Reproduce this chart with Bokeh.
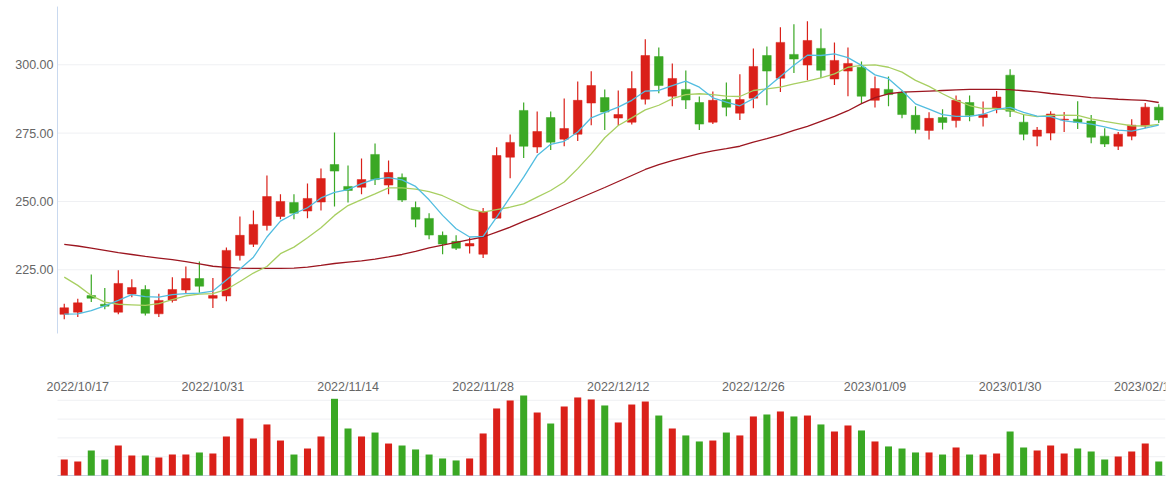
from bokeh.plotting import figure
from bokeh.models import ColumnDataSource, Range1d
from bokeh.embed import file_html
from bokeh.resources import INLINE
from bokeh.core.properties import value

# ---------------- data ----------------
dates = [
    "2022/10/14",
    "2022/10/17", "2022/10/18", "2022/10/19", "2022/10/20", "2022/10/21",
    "2022/10/24", "2022/10/25", "2022/10/26", "2022/10/27", "2022/10/28",
    "2022/10/31", "2022/11/01", "2022/11/02", "2022/11/03", "2022/11/04",
    "2022/11/07", "2022/11/08", "2022/11/09", "2022/11/10", "2022/11/11",
    "2022/11/14", "2022/11/15", "2022/11/16", "2022/11/17", "2022/11/18",
    "2022/11/21", "2022/11/22", "2022/11/23", "2022/11/24", "2022/11/25",
    "2022/11/28", "2022/11/29", "2022/11/30", "2022/12/01", "2022/12/02",
    "2022/12/05", "2022/12/06", "2022/12/07", "2022/12/08", "2022/12/09",
    "2022/12/12", "2022/12/13", "2022/12/14", "2022/12/15", "2022/12/16",
    "2022/12/19", "2022/12/20", "2022/12/21", "2022/12/22", "2022/12/23",
    "2022/12/26", "2022/12/27", "2022/12/28", "2022/12/29", "2022/12/30",
    "2023/01/03", "2023/01/04", "2023/01/05", "2023/01/06",
    "2023/01/09", "2023/01/10", "2023/01/11", "2023/01/12", "2023/01/13",
    "2023/01/16", "2023/01/17", "2023/01/18", "2023/01/19", "2023/01/20",
    "2023/01/30", "2023/01/31", "2023/02/01", "2023/02/02", "2023/02/03",
    "2023/02/06", "2023/02/07", "2023/02/08", "2023/02/09", "2023/02/10",
    "2023/02/13", "2023/02/14",
]

opens = [208.7, 209.5, 215.6, 212.4, 209.5, 216.1, 217.8, 208.9, 213.8, 217.6,
         221.8, 214.6, 215.4, 230.2, 234.3, 241.2, 244.5, 249.6, 246.5, 249.8,
         263.5, 255.5, 255.2, 267.2, 256.0, 258.8, 247.8, 243.8, 237.6, 235.4,
         233.7, 230.7, 243.9, 266.2, 283.3, 269.9, 280.7, 272.8, 274.6, 286.0,
         288.0, 280.5, 279.0, 287.4, 303.0, 288.5, 291.0, 286.2, 279.0, 287.3,
         282.3, 287.8, 303.4, 295.1, 303.8, 299.9, 306.0, 294.8, 297.7, 299.1,
         287.0, 291.0, 289.9, 281.5, 276.0, 280.7, 279.6, 286.2, 280.7, 284.1,
         296.2, 279.0, 273.9, 275.0, 279.8, 280.1, 279.4, 273.9, 270.2, 273.9,
         277.6, 284.5]
closes = [211.1, 212.9, 214.6, 211.7, 220.0, 218.5, 209.1, 213.8, 217.8, 221.8,
          219.0, 215.6, 232.1, 237.6, 241.6, 251.8, 250.0, 245.7, 251.1, 258.4,
          261.1, 254.0, 258.0, 258.0, 260.6, 250.5, 243.5, 237.7, 234.4, 232.9,
          234.6, 246.3, 266.8, 271.6, 270.2, 275.6, 271.7, 276.7, 287.0, 292.4,
          282.7, 281.8, 291.3, 303.4, 292.4, 295.0, 287.1, 278.3, 287.0, 284.5,
          287.3, 299.4, 297.7, 308.2, 302.1, 308.9, 298.0, 301.6, 300.5, 288.5,
          291.3, 289.1, 281.8, 276.3, 280.4, 278.9, 287.0, 281.5, 281.8, 288.2,
          283.0, 274.6, 276.1, 282.0, 280.1, 279.0, 273.5, 271.0, 274.6, 277.9,
          284.5, 279.8]
highs = [212.6, 214.4, 223.3, 218.3, 224.8, 221.5, 219.3, 216.2, 222.3, 226.2,
         228.0, 222.0, 233.2, 244.5, 246.7, 259.5, 252.6, 252.6, 256.6, 262.1,
         275.2, 263.2, 265.7, 271.2, 265.0, 260.2, 250.0, 245.7, 239.0, 237.6,
         236.8, 247.6, 269.8, 274.5, 286.2, 282.9, 282.9, 287.7, 293.9, 297.6,
         291.0, 290.6, 297.6, 309.3, 306.3, 300.5, 297.9, 288.4, 290.2, 293.5,
         296.5, 306.0, 306.7, 313.7, 314.8, 315.9, 313.3, 308.2, 306.3, 301.2,
         295.7, 295.7, 290.6, 284.8, 282.6, 283.7, 288.8, 288.8, 286.6, 290.4,
         298.4, 282.0, 277.2, 283.0, 282.7, 286.7, 281.6, 276.8, 275.4, 280.1,
         286.0, 285.6]
lows = [206.9, 207.7, 213.2, 210.6, 208.7, 215.0, 208.3, 207.7, 213.0, 216.2,
        216.6, 211.0, 213.5, 228.4, 233.3, 239.4, 243.5, 243.5, 243.9, 246.7,
        248.2, 249.6, 252.6, 256.0, 252.6, 249.8, 240.6, 236.2, 230.7, 232.2,
        231.0, 229.3, 243.6, 258.5, 265.9, 267.7, 268.8, 270.2, 272.1, 277.9,
        276.1, 277.8, 278.2, 285.5, 289.6, 284.8, 283.8, 276.1, 278.3, 281.2,
        279.8, 284.1, 285.2, 290.0, 297.0, 294.3, 295.2, 292.6, 288.5, 285.9,
        284.4, 284.8, 280.4, 274.9, 272.7, 276.3, 277.1, 279.3, 277.4, 282.3,
        280.9, 272.4, 270.2, 272.4, 275.4, 276.5, 271.3, 269.9, 268.8, 272.4,
        276.8, 278.7]

ma5 = [208.8, 208.9, 210.1, 211.8, 213.8, 215.9, 215.2, 215.0, 215.9, 216.3,
       216.5, 217.2, 221.3, 225.3, 229.6, 237.0, 242.8, 245.5, 247.7, 251.3,
       253.3, 254.3, 256.5, 258.2, 258.7, 257.9, 255.5, 250.6, 244.9, 240.0,
       237.0, 237.2, 244.3, 251.6, 258.9, 266.8, 270.9, 272.0, 275.4, 280.6,
       282.6, 284.5, 287.0, 290.4, 290.6, 292.4, 294.0, 291.8, 287.9, 286.3,
       285.0, 287.6, 291.6, 295.7, 299.8, 303.5, 303.4, 304.0, 302.6, 299.8,
       296.3, 294.9, 290.6, 285.7, 283.8, 281.8, 281.1, 281.1, 281.9, 283.7,
       284.4, 282.6, 281.2, 281.0, 279.5, 278.9, 278.3, 277.3, 276.1, 275.7,
       276.8, 277.9]
ma10 = [222.3, 219.3, 215.6, 213.2, 212.4, 212.2, 212.0, 212.6, 214.1, 215.5,
        216.1, 216.3, 217.8, 220.7, 223.8, 226.2, 230.9, 233.3, 236.7, 240.4,
        244.9, 248.5, 250.7, 252.8, 255.0, 255.0, 254.5, 253.6, 252.1, 249.8,
        247.3, 246.1, 247.0, 247.9, 249.1, 251.6, 254.0, 257.1, 262.0, 267.4,
        273.3, 277.8, 280.6, 283.5, 285.2, 287.6, 289.1, 289.4, 289.1, 288.5,
        288.4, 290.6, 291.2, 291.8, 293.0, 294.0, 295.2, 296.7, 299.1, 299.8,
        300.0, 299.1, 297.3, 294.3, 292.1, 289.4, 287.0, 285.1, 284.0, 284.0,
        283.4, 281.8, 281.0, 281.5, 281.6, 281.5, 280.2, 279.3, 278.5, 277.7,
        277.6, 278.2]
ma30 = [234.3, 233.7, 232.9, 232.1, 231.3, 230.6, 229.9, 229.3, 228.7, 228.0,
        227.2, 226.3, 225.9, 225.6, 225.5, 225.5, 225.5, 225.6, 226.0, 226.6,
        227.3, 227.8, 228.3, 228.9, 229.7, 230.6, 231.7, 233.0, 234.0, 235.0,
        236.0, 237.0, 238.8, 240.6, 242.7, 244.6, 246.7, 248.8, 250.9, 253.0,
        255.1, 257.3, 259.5, 261.7, 263.5, 264.9, 266.2, 267.5, 268.5, 269.3,
        270.2, 271.7, 273.0, 274.4, 276.0, 277.5, 279.3, 281.1, 283.2, 285.8,
        288.0, 289.4, 290.0, 290.2, 290.4, 290.6, 290.8, 291.0, 291.0, 291.0,
        290.9, 290.5, 290.1, 289.5, 289.0, 288.5, 288.0, 287.7, 287.4, 287.2,
        287.0, 286.2]

volumes = [17.0, 14.9, 26.6, 17.0, 31.9, 21.3, 21.3, 19.1, 22.3, 22.3,
           24.5, 23.4, 41.5, 60.6, 39.4, 54.3, 37.2, 22.3, 28.7, 41.5,
           81.6, 50.0, 41.5, 45.7, 34.0, 31.9, 27.7, 22.3, 18.1, 16.0,
           18.1, 44.7, 71.3, 79.8, 85.1, 67.0, 55.3, 73.4, 83.0, 80.9,
           74.5, 56.4, 75.5, 78.7, 63.8, 50.0, 42.6, 36.2, 37.2, 45.7,
           42.6, 62.8, 64.9, 68.1, 62.8, 63.8, 54.3, 46.8, 53.2, 47.9,
           36.2, 30.9, 28.7, 24.5, 24.5, 22.3, 29.8, 22.3, 22.3, 23.4,
           46.8, 29.8, 26.6, 31.9, 23.4, 28.7, 25.5, 17.0, 20.2, 25.5,
           34.0, 14.9]

label_dates = ["2022/10/17", "2022/10/31", "2022/11/14", "2022/11/28", "2022/12/12",
               "2022/12/26", "2023/01/09", "2023/01/30", "2023/02/13"]
price_ticks = [225, 250, 275, 300]
vol_grid_ticks = [20, 40, 60, 80, 100]

# ---------------- styling / layout ----------------
UP = "#da2019"
DOWN = "#3aa824"
C_MA5 = "#52bde0"
C_MA10 = "#a8cf62"
C_MA30 = "#9c1620"
GRID = "#eff0f3"
AXIS_BLUE = "#c9d9ef"
BASE = "#c7d0df"
TEXT = "#666666"
FONT = "Liberation Sans"

n = len(dates)
LEFT_PAD = 57 / 13.512            # room for the price labels, in category units
X_RANGE = (-0.5 - LEFT_PAD, n - 0.5)
PRICE_RANGE = (148.28, 323.52)
PRICE_AXIS_BOUNDS = (201.7, 321.3)
VOL_RANGE = (-4.26, 505.3)
LABEL_VOL_Y = 94.2
X0, X1 = -0.5, n - 0.5            # category band edges

xs = list(range(n))
colors = [UP if c >= o else DOWN for o, c in zip(opens, closes)]
src = ColumnDataSource(dict(
    x=xs, open=opens, close=closes, high=highs, low=lows,
    top=[max(o, c) for o, c in zip(opens, closes)],
    bottom=[min(o, c) for o, c in zip(opens, closes)],
    color=colors, vol=volumes, ma5=ma5, ma10=ma10, ma30=ma30,
))

p = figure(width=1172, height=479, output_backend="svg", toolbar_location=None,
           x_range=Range1d(*X_RANGE), y_range=Range1d(*PRICE_RANGE),
           x_axis_location=None, y_axis_location=None,
           min_border_left=0, min_border_right=7, min_border_top=0, min_border_bottom=0)
p.outline_line_color = None
p.background_fill_color = "white"
p.border_fill_color = "white"
p.extra_y_ranges = {"vol": Range1d(*VOL_RANGE)}
for g in p.grid:
    g.visible = False

# price grid lines and axis line
p.segment(x0=[X0] * len(price_ticks), x1=[X1] * len(price_ticks), y0=price_ticks, y1=price_ticks,
          line_color=GRID, line_width=1)
p.segment(x0=[X0], x1=[X0], y0=[PRICE_AXIS_BOUNDS[0]], y1=[PRICE_AXIS_BOUNDS[1]],
          line_color=AXIS_BLUE, line_width=1)
# volume grid lines and baseline
p.segment(x0=[X0] * len(vol_grid_ticks), x1=[X1] * len(vol_grid_ticks), y0=vol_grid_ticks,
          y1=vol_grid_ticks, y_range_name="vol", line_color=GRID, line_width=1)
p.segment(x0=[X0], x1=[X1], y0=[0], y1=[0], y_range_name="vol", line_color=BASE, line_width=1)

# price tick labels
p.text(x=[X0] * len(price_ticks), y=price_ticks, text=[f"{t:.2f}" for t in price_ticks],
       x_offset=-4, text_align="right", text_baseline="middle", text_font=value(FONT),
       text_font_size="12.5px", text_color=TEXT)

# candles
p.segment(x0="x", y0="low", x1="x", y1="high", source=src, line_color="color", line_width=1.2)
p.vbar(x="x", top="top", bottom="bottom", width=0.64, source=src,
       fill_color="color", line_color="color", line_width=0.5)

# moving averages
p.line(x="x", y="ma30", source=src, line_color=C_MA30, line_width=1.3)
p.line(x="x", y="ma10", source=src, line_color=C_MA10, line_width=1.3)
p.line(x="x", y="ma5", source=src, line_color=C_MA5, line_width=1.3)

# volume
p.vbar(x="x", top="vol", bottom=0, width=0.52, source=src, y_range_name="vol",
       fill_color="color", line_color=None)

# date labels
lab_x = [dates.index(d) for d in label_dates]
p.text(x=lab_x, y=[LABEL_VOL_Y] * len(lab_x), text=label_dates, y_range_name="vol",
       text_align="center", text_baseline="middle", text_font=value(FONT),
       text_font_size="12.5px", text_color=TEXT)

open("out.html", "w").write(file_html(p, INLINE))
